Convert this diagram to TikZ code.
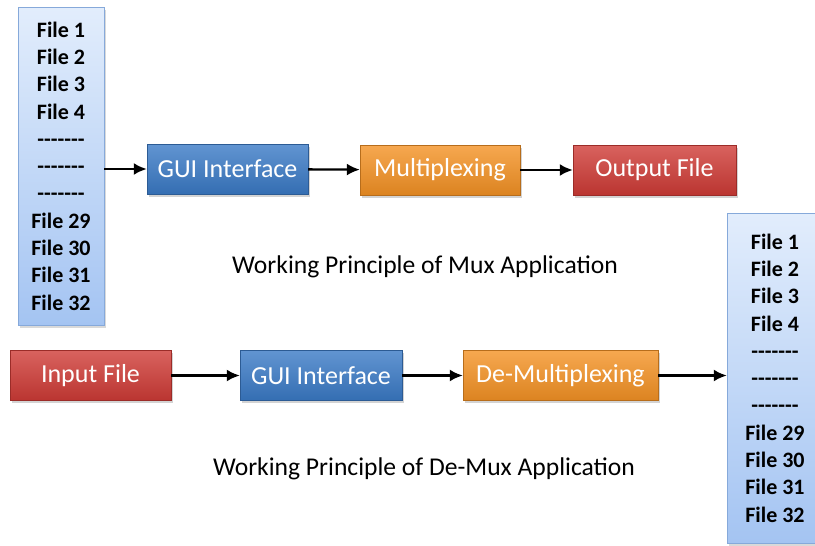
\documentclass[tikz,border=0pt]{standalone}
\usepackage{fontspec}
\setmainfont{Carlito}
\usetikzlibrary{positioning, shadows, arrows.meta}

\definecolor{guiblue}{HTML}{3A7AC6}
\definecolor{muxorange}{HTML}{F49224}
\definecolor{filered}{HTML}{CF3B36}
\definecolor{listtop}{HTML}{E2EDFC}
\definecolor{listbot}{HTML}{A4C4F2}
\definecolor{listedge}{HTML}{86A9DA}

\newcommand{\dashrow}{-{}-{}-{}-{}-{}-{}-}
\newcommand{\filerows}{File 1\\File 2\\File 3\\File 4\\\dashrow\\\dashrow\\\dashrow\\File 29\\File 30\\File 31\\File 32}

\tikzset{
  stage/.style={draw=#1!75!black, top color=#1!80!white, bottom color=#1!90!black,
    text=white, minimum width=161pt, minimum height=50pt, inner sep=0pt,
    font=\fontsize{26}{30}\selectfont,
    drop shadow={shadow xshift=1.5pt, shadow yshift=-2.5pt, opacity=0.35}},
  filelist/.style={draw=listedge, top color=listtop, bottom color=listbot,
    minimum width=86pt, align=center, inner sep=0pt,
    font=\fontsize{22}{27.3}\selectfont\bfseries,
    drop shadow={shadow xshift=1.5pt, shadow yshift=-2.5pt, opacity=0.3}},
  flow/.style={-{Latex[length=13pt,width=12pt]}, line width=2.3pt},
  caption/.style={font=\fontsize{25.6}{30}\selectfont}
}

\begin{document}
\begin{tikzpicture}[x=1pt, y=-1pt]
        \useasboundingbox (0,0) rectangle (815,546);

        % Mux application
        \node[filelist, minimum height=318pt] (infiles) at (61,166) {\filerows};
        \node[stage=guiblue] (guimux) at (227.5,169) {GUI Interface};
        \node[stage=muxorange, minimum width=160pt] (mux) at (440,170) {Multiplexing};
        \node[stage=filered, minimum width=163pt] (outfile) at (654.5,170) {Output File};

        \draw[flow] (infiles.east |- guimux.west) -- (guimux.west);
        \draw[flow] (guimux) -- (mux);
        \draw[flow] (mux) -- (outfile);

        \node[caption] (muxtitle) at (425,267) {Working Principle of Mux Application};

        % De-Mux application
        \node[stage=filered] (infile) at (90.5,375.5) {Input File};
        \node[stage=guiblue, minimum width=162pt] (guidemux) at (321,375.5) {GUI Interface};
        \node[stage=muxorange, minimum width=195pt] (demux) at (560.5,375.5) {De-Multiplexing};
        \node[filelist, minimum width=96pt, minimum height=330pt] (outfiles) at (775,378) {\filerows};

        \draw[flow] (infile) -- (guidemux);
        \draw[flow] (guidemux) -- (demux);
        \draw[flow] (demux.east) -- (outfiles.west |- demux.east);

        \node[caption] (demuxtitle) at (424,469) {Working Principle of De-Mux Application};

    \end{tikzpicture}
\end{document}
